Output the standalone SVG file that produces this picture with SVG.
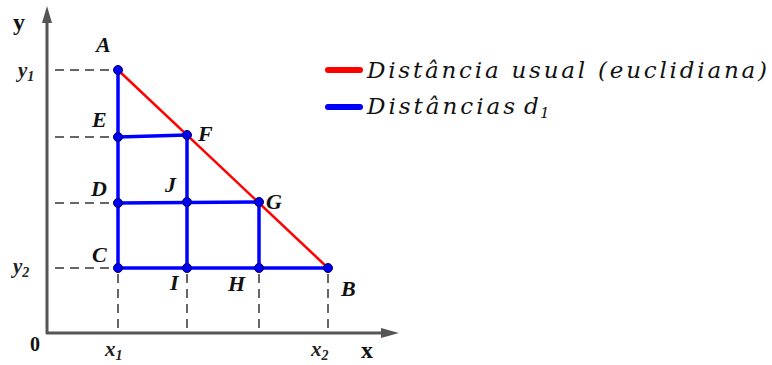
<svg xmlns="http://www.w3.org/2000/svg" width="772" height="365" viewBox="0 0 772 365">
<defs>
<style>
.axis{stroke:#555;stroke-width:3;fill:none}
.dash{stroke:#666;stroke-width:2;stroke-dasharray:9 6;fill:none}
.blue{stroke:#0000ff;stroke-width:3.5;fill:none;stroke-linecap:round}
.red{stroke:#ff0000;stroke-width:2.5;fill:none}
.pt{fill:#0000ee;stroke:#00006a;stroke-width:1}
.lbl{font-family:"Liberation Serif","DejaVu Serif",serif;font-style:italic;font-weight:bold;font-size:22px;fill:#111}
.tick{font-family:"Liberation Serif","DejaVu Serif",serif;font-style:italic;font-weight:bold;font-size:21px;fill:#222}
.ax{font-family:"Liberation Serif","DejaVu Serif",serif;font-weight:bold;font-size:24px;fill:#111}
.leg{font-family:"DejaVu Serif","Liberation Serif",serif;font-style:italic;font-size:23px;fill:#111}
.sub{font-size:14px}
</style>
</defs>
<g id="axes">
<line class="axis" x1="47" y1="334" x2="47" y2="20"/>
<polygon points="47,6 42,23 52,23" fill="#555"/>
<line class="axis" x1="46" y1="333" x2="384" y2="333"/>
<polygon points="399,333 381,328 381,338" fill="#555"/>
</g>
<g id="guides">
<line class="dash" x1="55" y1="70" x2="116" y2="70"/>
<line class="dash" x1="55" y1="137" x2="116" y2="137"/>
<line class="dash" x1="55" y1="203" x2="116" y2="203"/>
<line class="dash" x1="55" y1="268" x2="116" y2="268"/>
<line class="dash" x1="118" y1="274" x2="118" y2="331"/>
<line class="dash" x1="187" y1="274" x2="187" y2="331"/>
<line class="dash" x1="259" y1="274" x2="259" y2="331"/>
<line class="dash" x1="328" y1="274" x2="328" y2="331"/>
</g>
<g id="connectors">
<line class="red" x1="118" y1="70" x2="328" y2="268"/>
<polyline class="blue" points="118,70 118,268 328,268"/>
<line class="blue" x1="118" y1="137" x2="187" y2="135"/>
<line class="blue" x1="118" y1="203" x2="259" y2="202"/>
<line class="blue" x1="187" y1="135" x2="187" y2="268"/>
<line class="blue" x1="259" y1="202" x2="259" y2="268"/>
</g>
<g id="node-A"><circle class="pt" cx="118" cy="70" r="4.5"/><text class="lbl" x="96" y="52">A</text></g>
<g id="node-E"><circle class="pt" cx="118" cy="137" r="4.5"/><text class="lbl" x="92" y="127">E</text></g>
<g id="node-F"><circle class="pt" cx="187" cy="135" r="4.5"/><text class="lbl" x="198" y="141">F</text></g>
<g id="node-D"><circle class="pt" cx="118" cy="203" r="4.5"/><text class="lbl" x="91" y="196">D</text></g>
<g id="node-J"><circle class="pt" cx="187" cy="202" r="4.5"/><text class="lbl" x="165" y="192">J</text></g>
<g id="node-G"><circle class="pt" cx="259" cy="202" r="4.5"/><text class="lbl" x="266" y="209">G</text></g>
<g id="node-C"><circle class="pt" cx="118" cy="268" r="4.5"/><text class="lbl" x="92" y="262">C</text></g>
<g id="node-I"><circle class="pt" cx="187" cy="268" r="4.5"/><text class="lbl" x="170" y="290">I</text></g>
<g id="node-H"><circle class="pt" cx="259" cy="268" r="4.5"/><text class="lbl" x="228" y="291">H</text></g>
<g id="node-B"><circle class="pt" cx="328" cy="268" r="4.5"/><text class="lbl" x="341" y="296">B</text></g>
<g id="ticks">
<text class="ax" x="13" y="30">y</text>
<text class="tick" x="18" y="77">y<tspan class="sub" dy="4">1</tspan></text>
<text class="tick" x="13" y="273">y<tspan class="sub" dy="4">2</tspan></text>
<text class="ax" x="30" y="351" style="font-size:20px">0</text>
<text class="tick" x="105" y="356">x<tspan class="sub" dy="4">1</tspan></text>
<text class="tick" x="311" y="356">x<tspan class="sub" dy="4">2</tspan></text>
<text class="ax" x="361" y="358">x</text>
</g>
<g id="legend">
<line x1="328" y1="70" x2="360" y2="70" stroke="#ff0000" stroke-width="6" stroke-linecap="round"/>
<text class="leg" x="367" y="78" textLength="400" lengthAdjust="spacing">Distância usual (euclidiana)</text>
<line x1="328" y1="107" x2="360" y2="107" stroke="#0000ff" stroke-width="6" stroke-linecap="round"/>
<text class="leg" x="367" y="114" textLength="148" lengthAdjust="spacing">Distâncias</text>
<text class="leg" x="524" y="114">d</text>
<text class="leg" x="540" y="118" style="font-size:15px">1</text>
</g>
</svg>
